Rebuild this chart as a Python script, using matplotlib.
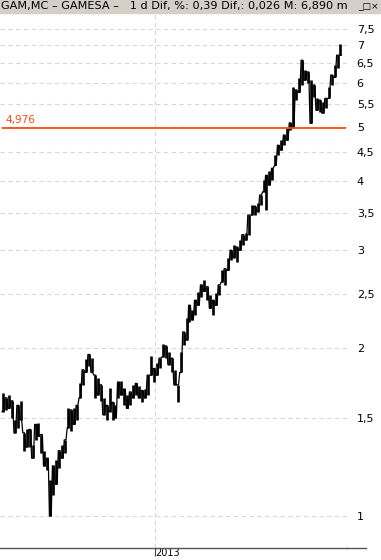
import matplotlib.pyplot as plt
import numpy as np
import pandas as pd
from matplotlib.lines import Line2D
from matplotlib.patches import Rectangle

# GAM.MC price bars, one bar per 3 trading days (high / low)
highs = [
    1.66, 1.63, 1.65, 1.61, 1.49, 1.58, 1.61, 1.41, 1.43, 1.43,
    1.34, 1.46, 1.47, 1.40, 1.31, 1.27, 1.16, 1.23, 1.26, 1.31,
    1.34, 1.37, 1.56, 1.55, 1.56, 1.58, 1.73, 1.83, 1.91, 1.95,
    1.92, 1.79, 1.77, 1.72, 1.63, 1.58, 1.70, 1.60, 1.58, 1.74,
    1.75, 1.69, 1.65, 1.67, 1.72, 1.73, 1.71, 1.68, 1.69, 1.79,
    1.94, 1.84, 1.88, 1.92, 2.04, 2.02, 1.97, 1.92, 1.83, 1.72,
    1.97, 2.14, 2.27, 2.39, 2.34, 2.44, 2.52, 2.60, 2.65, 2.58,
    2.49, 2.44, 2.51, 2.60, 2.76, 2.78, 2.90, 3.00, 3.06, 3.04,
    3.13, 3.20, 3.22, 3.47, 3.61, 3.60, 3.64, 3.77, 4.01, 4.09,
    4.16, 4.21, 4.44, 4.63, 4.73, 4.83, 4.97, 5.08, 5.88, 5.82,
    6.12, 6.58, 6.32, 6.27, 6.06, 5.94, 5.62, 5.58, 5.53, 5.62,
    5.88, 6.19, 6.45, 6.72, 7.05,
]
lows = [
    1.54, 1.55, 1.56, 1.50, 1.41, 1.44, 1.49, 1.31, 1.33, 1.33,
    1.27, 1.37, 1.39, 1.30, 1.23, 1.21, 1.00, 1.09, 1.14, 1.22,
    1.27, 1.30, 1.44, 1.42, 1.46, 1.49, 1.63, 1.72, 1.81, 1.86,
    1.81, 1.63, 1.65, 1.61, 1.52, 1.49, 1.54, 1.49, 1.50, 1.63,
    1.65, 1.58, 1.56, 1.58, 1.63, 1.65, 1.63, 1.60, 1.63, 1.65,
    1.79, 1.74, 1.79, 1.84, 1.93, 1.92, 1.87, 1.81, 1.72, 1.60,
    1.81, 2.03, 2.07, 2.23, 2.25, 2.30, 2.39, 2.47, 2.53, 2.44,
    2.36, 2.30, 2.39, 2.49, 2.63, 2.60, 2.76, 2.88, 2.91, 2.86,
    3.00, 3.06, 3.13, 3.19, 3.47, 3.47, 3.52, 3.61, 3.82, 3.54,
    3.93, 4.01, 4.26, 4.44, 4.54, 4.63, 4.73, 4.93, 4.97, 5.58,
    5.76, 5.94, 6.06, 6.00, 5.07, 5.65, 5.35, 5.31, 5.29, 5.40,
    5.62, 5.94, 6.13, 6.38, 6.72,
]
dates = pd.bdate_range("2012-05-28", periods=len(highs), freq="3B")
level = 4.976
yticks = [1, 1.5, 2, 2.5, 3, 3.5, 4, 4.5, 5, 5.5, 6, 6.5, 7, 7.5]
title = "GAM,MC \u2013 GAMESA \u2013   1 d Dif, %: 0,39 Dif,: 0,026 M: 6,890 m"


def fmt(v):
    return ("%g" % v).replace(".", ",")


def main() -> None:
    fig = plt.figure(figsize=(3.81, 5.60), dpi=100)
    ax = fig.add_axes([0.0, 12 / 560, 347 / 381, 535 / 560])

    idx = np.arange(len(highs))
    ax.set_yscale("log")
    ax.set_ylim(0.876, 8.0)
    ax.set_xlim(-1.0, 116.2)

    for t in yticks:
        ax.axhline(t, color="#d8d8d8", lw=0.8, ls=(0, (4, 3)), zorder=0)
    first2013 = int(np.argmax(dates.year == 2013))
    ax.axvline(first2013 - 0.5, color="#d8d8d8", lw=0.8, ls=(0, (4, 3)),
               zorder=0)

    # high-low bars plus a thin zigzag between them so it reads like daily bars
    hl = np.array([lows, highs])
    zig_x = np.repeat(idx, 2) + np.tile([-0.3, 0.3], len(idx))
    zig_y = np.where(np.arange(2 * len(idx)) % 4 < 2,
                     hl[0].repeat(2), hl[1].repeat(2))
    ax.plot(zig_x, zig_y, color="black", lw=0.9, zorder=2)
    ax.vlines(idx, lows, highs, color="black", lw=1.9, zorder=2)

    ax.axhline(level, xmin=0.01, xmax=0.995, color="#ff4a10", lw=1.3,
               zorder=3)
    ax.text(5 / 347, level * 1.012, fmt(level),
            transform=ax.get_yaxis_transform(),
            color="#ff4a10", fontsize=7.5, va="bottom", ha="left")

    ax.set_yticks(yticks)
    ax.set_yticklabels([fmt(t) for t in yticks])
    ax.yaxis.set_minor_locator(plt.NullLocator())
    ax.yaxis.tick_right()
    ax.tick_params(axis="y", length=0, pad=7, labelsize=8)
    ax.set_xticks([first2013 - 0.5])
    ax.set_xticklabels([str(dates[first2013].year)])
    ax.tick_params(axis="x", length=6, width=0.8, color="#444444", pad=-6,
                   labelsize=7)
    for lab in ax.get_xticklabels():
        lab.set_horizontalalignment("left")

    for s in ["top", "left", "right"]:
        ax.spines[s].set_visible(False)
    ax.spines["bottom"].set_color("#555555")
    ax.spines["bottom"].set_linewidth(1.0)
    fig.add_artist(Line2D([347 / 381, 366 / 381], [12 / 560, 12 / 560],
                          color="#555555", lw=1.0))

    # title bar
    fig.add_artist(Rectangle((0, 547 / 560), 1, 13 / 560, color="#d4d0c8"))
    fig.text(1 / 381, 553.5 / 560, title, fontsize=8.1, va="center",
             ha="left", color="black")
    fig.text(368 / 381, 553.5 / 560, "_\u25a1\u00d7", fontsize=6.5,
             va="center", ha="center", color="black")

    fig.savefig("out.png", dpi=100)


if __name__ == "__main__":
    main()
